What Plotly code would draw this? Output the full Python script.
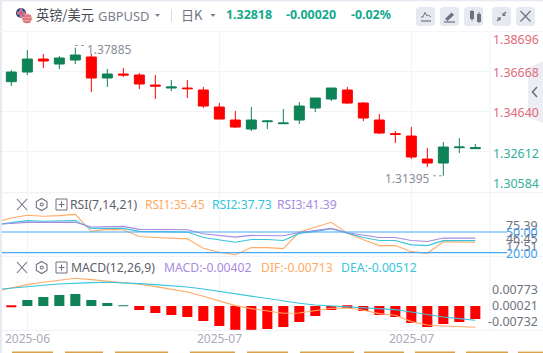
import plotly.graph_objects as go

# ---- data ----
idx = list(range(30))
line_idx = list(range(-1, 30))
opens = [1.36161,1.36651,1.3731,1.37057,1.3726,1.37412,1.36347,1.3655,1.36499,1.35992,1.3584,1.3584,1.35739,1.34877,1.34218,1.33761,1.34133,1.34032,1.34218,1.34826,1.35282,1.35739,1.35079,1.34218,1.33525,1.33406,1.3224,1.32037,1.32815,1.32764]
highs = [1.36752,1.37767,1.37564,1.37462,1.37885,1.37564,1.36803,1.36854,1.366,1.36499,1.36246,1.36246,1.35891,1.35079,1.34674,1.34877,1.34218,1.34775,1.3513,1.35333,1.3584,1.35891,1.3513,1.34522,1.3366,1.33863,1.32798,1.33102,1.33305,1.33001]
lows = [1.35941,1.36499,1.36854,1.36803,1.37057,1.35637,1.35891,1.36398,1.35789,1.35282,1.35688,1.35333,1.34826,1.34268,1.33812,1.3366,1.33761,1.34015,1.34015,1.34623,1.35181,1.35029,1.34167,1.33508,1.33051,1.3224,1.31835,1.31395,1.32544,1.32764]
closes = [1.36651,1.3731,1.37209,1.37361,1.37513,1.36347,1.3655,1.36499,1.36043,1.35941,1.35891,1.35806,1.34927,1.34268,1.33863,1.34218,1.34167,1.34065,1.34927,1.35333,1.3584,1.35079,1.34319,1.33558,1.33491,1.32342,1.32037,1.32849,1.32849,1.32818]
rsi1 = [64.5,70.3,74.2,72.7,73.7,75.39,51,53.9,53.4,43.7,42.3,41.3,40.3,26.8,21,17.51,27.7,27.7,26.3,50,56.8,64,48.5,38.9,30.6,30.6,21.9,19.5,36,36,35.45]
rsi2 = [60.6,63.6,66.5,65.5,66,66.5,55.3,55.8,55.3,51,51,50.5,50,42.3,38.9,35.5,39.4,39.4,37.9,48.1,51,54.8,48.5,42.3,37.9,37.9,31.6,30.6,37.73,37.73,37.73]
rsi3 = [61.1,62.6,64,64,64,64,57.3,58.2,58.2,53.9,53.4,53.4,53.4,47.6,44.7,42.7,45.2,45.2,44.7,49.5,51.9,55.3,49,45.6,42.3,42.3,37.9,36.4,41.39,41.39,41.39]
macd = [-.0002,.00185,.00278,.0034,.0037,.00185,.00093,.0002,-.00124,-.00216,-.00278,-.0034,-.00464,-.0062,-.0074,-.0074,-.00712,-.00649,-.00494,-.00309,-.00124,-.0006,-.00155,-.00278,-.0034,-.00525,-.00649,-.00556,-.00494,-.00402]
dif = [.00321,.00416,.00512,.00579,.00646,.00694,.00656,.00617,.00579,.00522,.00455,.00388,.00301,.00177,.00043,-.00091,-.00177,-.00244,-.00311,-.00301,-.00244,-.00167,-.00158,-.00225,-.00321,-.00368,-.0055,-.00646,-.00675,-.00694,-.00713]
dea = [.00368,.00416,.00455,.00493,.00531,.0056,.00569,.00579,.00569,.00541,.00512,.00483,.00445,.00388,.00321,.00254,.00187,.0012,.00033,-.00024,-.00072,-.001,-.0012,-.00139,-.00167,-.00206,-.00273,-.00349,-.00416,-.00464,-.00512]
date_ticks = [1, 13, 25]
date_labels = ["2025-06", "2025-07", "2025-07"]
price_ticks = [1.36668, 1.34640, 1.32612]
price_labels = [("1.38696",39.5,"#e36a7a"),("1.36668",72,"#e36a7a"),("1.34640",112.5,"#e36a7a"),("1.32612",153,"#2fb098"),("1.30584",183.5,"#2fb098")]
rsi_labels = [("75.39",225.5,"#6f7380"),("50.00",232,"#3f9ef0"),("46.45",238,"#6f7380"),("17.51",246.5,"#6f7380"),("20.00",253,"#3f9ef0")]
macd_labels = [("0.00773",289.5),("0.00021",305.5),("-0.00732",321.5)]

W, H = 543, 353
GREEN, RED = "#0f8257", "#ff0000"
ORANGE, CYAN, PURPLE = "#ffab66", "#36c5dc", "#a78be0"
GRID = "#f3f4f8"
SANS = "Noto Sans, Noto Sans CJK SC, sans-serif"
CJK = "Noto Sans CJK SC, sans-serif"

def px(x): return x / W
def py(y): return 1 - y / H

fig = go.Figure()
fig.add_trace(go.Candlestick(x=idx, open=opens, high=highs, low=lows, close=closes, xaxis="x", yaxis="y",
    increasing=dict(line=dict(color=GREEN, width=1), fillcolor=GREEN),
    decreasing=dict(line=dict(color=RED, width=1), fillcolor=RED),
    whiskerwidth=0, hoverinfo="skip", showlegend=False))
for vals, col in ((rsi1, ORANGE), (rsi2, CYAN), (rsi3, PURPLE)):
    fig.add_trace(go.Scatter(x=line_idx, y=vals, mode="lines", line=dict(color=col, width=1.1), xaxis="x2", yaxis="y2", showlegend=False))
fig.add_trace(go.Bar(x=idx, y=macd, width=0.63, marker=dict(color=[GREEN if v > 0 else RED for v in macd], line=dict(width=0)), xaxis="x3", yaxis="y3", showlegend=False))
for vals, col in ((dif, ORANGE), (dea, CYAN)):
    fig.add_trace(go.Scatter(x=line_idx, y=vals, mode="lines", line=dict(color=col, width=1.1), xaxis="x4", yaxis="y4", showlegend=False))

xr = [(2 - 11.33) / 16, (490 - 11.33) / 16]
xbase = dict(range=xr, domain=[px(2), px(490)], tickvals=date_ticks, showticklabels=False, showgrid=True, gridcolor=GRID, gridwidth=1,
             zeroline=False, showline=False, ticks="", rangeslider=dict(visible=False), fixedrange=True)
ybase = dict(side="left", showticklabels=False, ticks="", zeroline=False, showline=False, fixedrange=True)
layout = dict(
    width=W, height=H, margin=dict(l=0, r=0, t=0, b=0), autosize=False, paper_bgcolor="white", plot_bgcolor="rgba(0,0,0,0)",
    showlegend=False, hovermode=False, barmode="overlay", boxgap=0.375, boxgroupgap=0,
    xaxis=dict(xbase, anchor="y"),
    xaxis2=dict(xbase, anchor="y2", matches=None),
    xaxis3=dict(xbase, anchor="y3"),
    xaxis4=dict(xbase, anchor="y4", overlaying="x3", showgrid=False),
    yaxis=dict(ybase, domain=[py(191.7), py(31.7)], range=[1.30584, 1.38696], tickvals=price_ticks, showgrid=True, gridcolor=GRID, anchor="x"),
    yaxis2=dict(ybase, domain=[py(256.3), py(192.7)], range=[15.2, 106.6], showgrid=False, anchor="x2"),
    yaxis3=dict(ybase, domain=[py(330.3), py(256.3)], range=[-0.00752, 0.01535], showgrid=False, anchor="x3"),
    yaxis4=dict(ybase, domain=[py(330.3), py(256.3)], range=[-0.00799, 0.01325], showgrid=False, anchor="x4", overlaying="y3"),
)
fig.update_layout(**layout)

shapes, notes = [], []
def line(x0, y0, x1, y1, c, w=1):
    shapes.append(dict(type="line", xref="paper", yref="paper", x0=px(x0), x1=px(x1), y0=py(y0), y1=py(y1), line=dict(color=c, width=w)))
def rect(x0, y0, x1, y1, c):
    shapes.append(dict(type="rect", xref="paper", yref="paper", x0=px(x0), x1=px(x1), y0=py(y0), y1=py(y1), fillcolor=c, line=dict(width=0), layer="below"))
def poly(pts, fill=None, stroke=None, w=1, closed=False, layer="above"):
    d = "M " + " L ".join(f"{px(a):.5f} {py(b):.5f}" for a, b in pts) + (" Z" if closed else "")
    s = dict(type="path", xref="paper", yref="paper", path=d, line=dict(color=stroke or "rgba(0,0,0,0)", width=w), layer=layer)
    if fill: s["fillcolor"] = fill
    shapes.append(s)
def circle(cx, cy, r, c):
    shapes.append(dict(type="circle", xref="paper", yref="paper", x0=px(cx-r), x1=px(cx+r), y0=py(cy-r), y1=py(cy+r), fillcolor=c, line=dict(width=0)))
def text(s, x, y, c, size=12, anchor="left", bold=False, font=SANS):
    t = f"<b>{s}</b>" if bold else s
    notes.append(dict(text=t, xref="paper", yref="paper", x=px(x), y=py(y), xanchor=anchor, yanchor="middle", showarrow=False,
                      font=dict(color=c, size=size, family=font), borderpad=0, borderwidth=0))
def rrect(x0, y0, x1, y1, r, c):
    d = (f"M {px(x0+r)} {py(y0)} L {px(x1-r)} {py(y0)} Q {px(x1)} {py(y0)} {px(x1)} {py(y0+r)} L {px(x1)} {py(y1-r)} Q {px(x1)} {py(y1)} {px(x1-r)} {py(y1)} "
         f"L {px(x0+r)} {py(y1)} Q {px(x0)} {py(y1)} {px(x0)} {py(y1-r)} L {px(x0)} {py(y0+r)} Q {px(x0)} {py(y0)} {px(x0+r)} {py(y0)} Z")
    shapes.append(dict(type="path", xref="paper", yref="paper", path=d, fillcolor=c, line=dict(width=0), layer="below"))

# frame
rect(0, 0, 2, H, "#e6eaf3")
rect(0, 0, W, 1.2, "#e6eaf3")
rect(0, 31, W, 32, "#f4f5f8")
for y in (192.7, 256.3, 330.3):
    line(2, y, W, y, "#eef0f5")
line(490, 32, 490, 331, "#eef0f5")
# bottom strip
for a, b in ((12,53),(65,103),(115,168),(190,235),(247,288),(300,354),(364,404),(415,455),(466,508),(518,543)):
    rect(a, 351.6, b, 353, "#d9a24a")
# right tab
poly([(528,68),(543,61),(543,123),(528,117)], fill="#eceef4", closed=True, layer="below")
poly([(537,87),(532.5,92),(537,97)], stroke="#6e7280", w=1.6)

# header
circle(21, 13, 5, "#2b3a7a"); line(17, 13, 25, 13, "#e4e6ee", 2.6); line(21, 8.5, 21, 17.5, "#e4e6ee", 2.6); line(17, 13, 25, 13, "#d8283c", 1.2); line(21, 8.5, 21, 17.5, "#d8283c", 1.2)
circle(27, 18.5, 5, "#e8a0a8"); line(23, 16, 31, 16, "#d8505c", 1); line(22.5, 19, 31.5, 19, "#d8505c", 1); line(23.5, 22, 30.5, 22, "#d8505c", 1); rect(23,14,26.5,18,"#46558c")
text("英镑/美元", 36, 14.5, "#454851", 13.2, font=CJK)
text("GBPUSD", 98, 15.5, "#7b7f8b", 12.9)
poly([(155,14),(160,14),(157.5,17)], fill="#7b7f8b", closed=True)
line(171.5, 9, 171.5, 22, "#d8dbe3")
text("日K", 181, 14.5, "#6f7380", 13, font=CJK)
poly([(210.5,14),(215.5,14),(213,17)], fill="#7b7f8b", closed=True)
text("1.32818", 226, 14.5, "#12a98c", 12.4, bold=True)
text("-0.00020", 286, 14.5, "#12a98c", 12.4, bold=True)
text("-0.02%", 351, 14.5, "#12a98c", 12.4, bold=True)
for a in (416, 440, 464, 492, 516):
    rrect(a, 7, a + 19, 26, 3.5, "#e6e9f0")
IC = "#6e7280"
poly([(421,17),(423,17),(425,12.5),(427,16),(428.5,15),(431,17)], stroke=IC, w=1); line(421, 21, 431, 21, IC, 1.2)
poly([(445,19),(451.5,12.5),(454,15),(447.5,21)], fill=IC, closed=True); line(444, 22, 455, 22, IC, 1.2)
rect(470,11,474,19,IC); line(472,10,472,21,IC); rect(477,14,481,22,IC); line(479,12,479,23,IC)
poly([(497,21),(500.5,17.5)], stroke=IC, w=1.4); poly([(500.5,21),(500.5,17.5),(497,17.5)], fill=IC, closed=True)
poly([(506,12),(503,15)], stroke=IC, w=1.4); poly([(502.5,12.5),(502.5,16),(506,16)], fill=IC, closed=True)
line(520.5, 11, 530.5, 21.5, IC, 1.2); line(530.5, 11, 520.5, 21.5, IC, 1.2)

# price axis + extreme labels
for s, y, c in price_labels:
    text(s, 539, y, c, 12.4, "right")
text("1.37885", 87, 49.5, "#8a8d99", 12)
line(75, 45.5, 85, 45.5, "#9a9da8"); 
text("1.31395", 430, 178.5, "#8a8d99", 12, "right")
line(433, 175.8, 443, 175.8, "#9a9da8")
shapes[-1]["line"]["dash"] = "dot"; shapes[-2]["line"]["dash"] = "dot"

# RSI / MACD headers
def header(y):
    line(17, y-5.5, 27, y+5.5, IC, 1.1); line(27, y-5.5, 17, y+5.5, IC, 1.1)
    poly([(41.7,y-6),(47,y-3),(47,y+3),(41.7,y+6),(36.3,y+3),(36.3,y-3)], stroke=IC, w=1.1, closed=True)
    circle(41.7, y, 2, IC); circle(41.7, y, 1, "white")
    shapes.append(dict(type="rect", xref="paper", yref="paper", x0=px(56), x1=px(67), y0=py(y-5.5), y1=py(y+5.5), line=dict(color=IC, width=1)))
    line(58.5, y, 64.5, y, IC); line(61.5, y-3, 61.5, y+3, IC)
header(204.5); header(267.5)
text("RSI(7,14,21)", 70, 204.5, "#5c5f69", 12.2)
text("RSI1:35.45", 145, 204.5, ORANGE, 12.2)
text("RSI2:37.73", 212, 204.5, CYAN, 12.2)
text("RSI3:41.39", 277, 204.5, PURPLE, 12.2)
text("MACD(12,26,9)", 71, 267.5, "#5c5f69", 12.2)
text("MACD:-0.00402", 164, 267.5, PURPLE, 12.2)
text("DIF:-0.00713", 261, 267.5, ORANGE, 12.2)
text("DEA:-0.00512", 341, 267.5, CYAN, 12.2)

# RSI reference lines
line(2, 232, 507, 232, "#4aa8f5", 1.2)
line(2, 252.6, 507, 252.6, "#4aa8f5", 1.2)
for s, y, c in rsi_labels:
    text(s, 538, y, c, 12.4, "right")
for s, y in macd_labels:
    text(s, 538, y, "#6f7380", 12.4, "right")
for s, v in zip(date_labels, date_ticks):
    text(s, 11.33 + 16 * v, 338, "#a9acb8", 12, "center")

fig.update_layout(shapes=shapes, annotations=notes)
fig.write_html("out.html", post_script="document.body.style.margin='0';document.body.style.overflow='hidden';", config=dict(displayModeBar=False))
